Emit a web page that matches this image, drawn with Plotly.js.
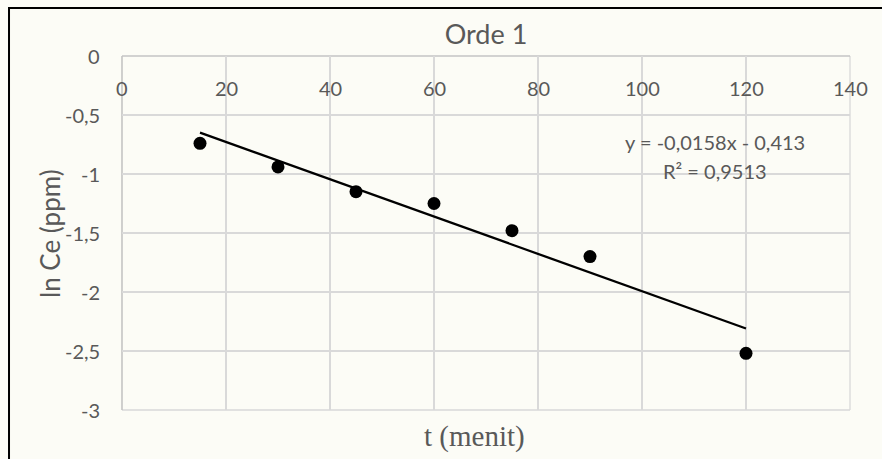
<!DOCTYPE html>
<html>
<head>
<meta charset="utf-8">
<script src="https://cdn.plot.ly/plotly-3.0.1.min.js"></script>
<style>html,body{margin:0;padding:0;background:#fcfcf6;}#chart{width:882px;height:459px;}</style>
</head>
<body>
<div id="chart"></div>
<script>
// Data
const tValues = [15, 30, 45, 60, 75, 90, 120];
const lnCe = [-0.74, -0.94, -1.15, -1.25, -1.48, -1.70, -2.52];
// Linear trendline shown on the chart: y = -0,0158x - 0,413
const trendSlope = -0.0158;
const trendIntercept = -0.413;
const trendX = [15, 120];
const trendY = trendX.map(x => trendSlope * x + trendIntercept);
const xTicks = [0, 20, 40, 60, 80, 100, 120, 140];
const xTickText = ['0', '20', '40', '60', '80', '100', '120', '140'];
const yTicks = [0, -0.5, -1, -1.5, -2, -2.5, -3];
const yTickText = ['0', '-0,5', '-1', '-1,5', '-2', '-2,5', '-3'];

const gray = '#595959';
const sans = 'Lato, Calibri, sans-serif';
const tickFont = {family: sans, size: 20, color: gray};

const traces = [
  {
    x: tValues, y: lnCe, type: 'scatter', mode: 'markers',
    marker: {color: '#000000', size: 13},
    hoverinfo: 'skip', showlegend: false
  },
  {
    x: trendX, y: trendY, type: 'scatter', mode: 'lines',
    line: {color: '#000000', width: 2.3},
    hoverinfo: 'skip', showlegend: false
  }
];

const annotations = [];
// x tick labels (drawn just below the y = 0 line, as in the original)
xTicks.forEach((v, i) => annotations.push({
  text: xTickText[i], x: v, xref: 'x', y: 0, yref: 'y',
  xanchor: 'center', yanchor: 'top', yshift: -18, showarrow: false, font: tickFont
}));
// y tick labels
yTicks.forEach((v, i) => annotations.push({
  text: yTickText[i], x: 0, xref: 'paper', y: v, yref: 'y',
  xanchor: 'right', yanchor: 'middle', xshift: -20, showarrow: false, font: tickFont
}));
annotations.push(
  {text: 'ln Ce (ppm)', xref: 'paper', yref: 'paper', x: -0.099, y: 0.5, textangle: -90,
   xanchor: 'center', yanchor: 'middle', showarrow: false,
   font: {family: sans, size: 26, color: gray}},
  {text: 't (menit)', xref: 'paper', yref: 'paper', x: 0.484, y: -0.075,
   xanchor: 'center', yanchor: 'middle', showarrow: false,
   font: {family: 'Liberation Serif, Times New Roman, serif', size: 29, color: gray}},
  {text: 'y = -0,0158x - 0,413', xref: 'paper', yref: 'paper', x: 0.8146, y: 0.758,
   xanchor: 'center', yanchor: 'middle', showarrow: false,
   font: {family: sans, size: 20, color: gray}},
  {text: 'R² = 0,9513', xref: 'paper', yref: 'paper', x: 0.8146, y: 0.676,
   xanchor: 'center', yanchor: 'middle', showarrow: false,
   font: {family: sans, size: 20, color: gray}}
);

const layout = {
  width: 882, height: 459,
  margin: {l: 122, r: 32, t: 56, b: 49},
  paper_bgcolor: '#fcfcf6',
  plot_bgcolor: '#fcfcf6',
  separators: ', ',
  showlegend: false,
  font: {family: sans, color: gray},
  xaxis: {
    range: [0, 140], tickvals: xTicks, showticklabels: false,
    ticks: '', showgrid: true, gridcolor: '#d9d9d9', gridwidth: 1.3,
    showline: false, zeroline: false
  },
  yaxis: {
    range: [-3, 0], tickvals: yTicks, showticklabels: false,
    ticks: '', showgrid: true, gridcolor: '#d9d9d9', gridwidth: 1.3,
    showline: false, zeroline: false
  },
  title: {
    text: 'Orde 1', font: {family: sans, size: 27, color: gray},
    x: 0.5, xref: 'paper', y: 0.925, yref: 'container', yanchor: 'middle'
  },
  annotations: annotations,
  shapes: [
    // plot-area edges (grid lines at the range limits)
    {type: 'line', xref: 'paper', yref: 'paper', x0: 0, x1: 1, y0: 0, y1: 0, line: {color: '#d9d9d9', width: 1.3}, layer: 'below'},
    {type: 'line', xref: 'paper', yref: 'paper', x0: 1, x1: 1, y0: 0, y1: 1, line: {color: '#d9d9d9', width: 1.3}, layer: 'below'},
    {type: 'line', xref: 'paper', yref: 'paper', x0: 0, x1: 1, y0: 1, y1: 1, line: {color: '#c4c4c4', width: 1.6}, layer: 'below'},
    {type: 'line', xref: 'paper', yref: 'paper', x0: 0, x1: 0, y0: 0, y1: 1, line: {color: '#c4c4c4', width: 1.6}, layer: 'below'},
    // outer chart frame
    {type: 'rect', xref: 'paper', yref: 'paper',
     x0: -0.1552, x1: 1.3, y0: -0.5, y1: 1.1356,
     line: {color: '#000000', width: 2}, fillcolor: 'rgba(0,0,0,0)', layer: 'above'}
  ]
};

Plotly.newPlot('chart', traces, layout, {staticPlot: true, displayModeBar: false});
</script>
</body>
</html>
